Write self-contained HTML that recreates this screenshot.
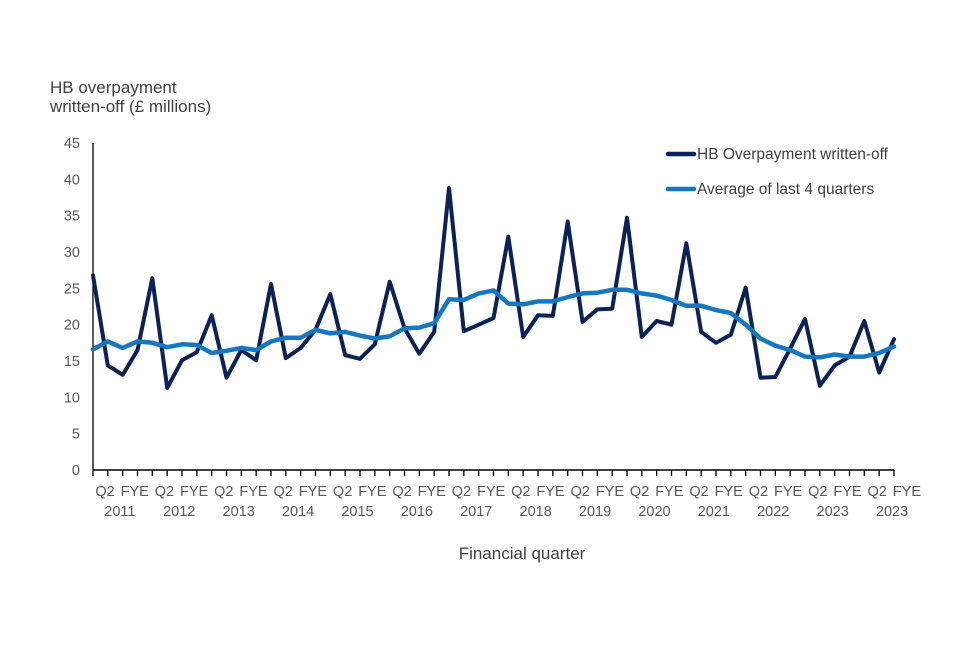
<!DOCTYPE html>
<html><head><meta charset="utf-8"><style>
body{margin:0;background:#fff;}
svg{font-family:"Liberation Sans",Arial,sans-serif;}
</style></head><body>
<svg id="chart" width="960" height="640">
<text x="50" y="93" font-size="17" fill="#404040">HB overpayment</text>
<text x="50" y="112" font-size="17" fill="#404040">written-off (£ millions)</text>
<g id="yticks"></g><g id="xticks"></g><g id="series"></g>
<text x="522" y="559" font-size="17" fill="#404040" text-anchor="middle">Financial quarter</text>
<g>
<line x1="668" y1="154" x2="694" y2="154" stroke="#0b2157" stroke-width="4.5" stroke-linecap="round"/>
<text x="697" y="159" font-size="15.5" fill="#404040">HB Overpayment written-off</text>
<line x1="668" y1="189" x2="694" y2="189" stroke="#1477bf" stroke-width="4.5" stroke-linecap="round"/>
<text x="697" y="194" font-size="15.5" fill="#404040">Average of last 4 quarters</text>
</g>
</svg>
<script>
const yTicks=[0,5,10,15,20,25,30,35,40,45];
const periodLabels=["Q2","FYE"];
const yearLabels=["2011","2012","2013","2014","2015","2016","2017","2018","2019","2020","2021","2022","2023","2023"];
const writtenOff=[26.8,14.4,13.1,16.5,26.4,11.3,15.1,16.2,21.3,12.7,16.5,15.1,25.6,15.4,16.8,19.3,24.2,15.8,15.3,17.3,25.9,19.5,16.0,19.0,38.8,19.1,20.0,20.9,32.1,18.3,21.3,21.2,34.2,20.4,22.1,22.2,34.7,18.3,20.5,20.0,31.2,19.0,17.5,18.6,25.1,12.7,12.8,16.7,20.8,11.6,14.4,15.6,20.5,13.4,18.0];
const average4q=[16.6,17.7,16.8,17.7,17.5,16.9,17.3,17.2,16.1,16.4,16.8,16.5,17.7,18.2,18.2,19.3,18.8,19.0,18.5,18.1,18.4,19.5,19.6,20.2,23.5,23.4,24.3,24.7,22.9,22.8,23.2,23.2,23.8,24.3,24.4,24.8,24.8,24.3,24.0,23.4,22.6,22.6,22.0,21.6,20.0,18.1,17.1,16.5,15.6,15.5,15.9,15.6,15.6,16.1,17.0];
const NS="http://www.w3.org/2000/svg";
const x0=93,x1=894,y0=470,y1=143,yMax=45;
const n=writtenOff.length;
const xPos=i=>x0+i*(x1-x0)/(n-1);
const yPos=v=>y0-v*(y0-y1)/yMax;
function mk(t,a,p){const e=document.createElementNS(NS,t);for(const k in a)e.setAttribute(k,a[k]);p.appendChild(e);return e;}
const yg=document.getElementById('yticks');
yTicks.forEach(v=>{const t=mk('text',{x:80,y:yPos(v)+5,'font-size':14.5,fill:'#595959','text-anchor':'end'},yg);t.textContent=v;

});
const ax=mk('line',{x1:x0,y1:y1,x2:x0,y2:y0,stroke:'#000','stroke-width':1.3},yg);


const xg=document.getElementById('xticks');
const xa=mk('line',{x1:x0,y1:y0,x2:x1,y2:y0,stroke:'#000','stroke-width':1.5},xg);


for(let i=0;i<n;i++){const tk=mk('line',{x1:xPos(i),y1:y0,x2:xPos(i),y2:y0+6,stroke:'#000','stroke-width':1.3},xg);

}
const lblStep=29.7;
yearLabels.forEach((yr,g)=>{periodLabels.forEach((p,j)=>{const k=g*2+j;const t=mk('text',{x:105+k*lblStep,y:496,'font-size':14.5,fill:'#595959','text-anchor':'middle'},xg);t.textContent=p;

});
const t=mk('text',{x:105+(g*2+0.5)*lblStep,y:516,'font-size':14.5,fill:'#595959','text-anchor':'middle'},xg);t.textContent=yr;

});
const sg=document.getElementById('series');
function line(data,color,w,name){const d=data.map((v,i)=>(i?'L':'M')+xPos(i).toFixed(1)+' '+yPos(v).toFixed(1)).join(' ');
const p=mk('path',{d:d,fill:'none',stroke:color,'stroke-width':w,'stroke-linejoin':'round','stroke-linecap':'round'},sg);

}
line(writtenOff,'#0b2157',4,'written-off-line');
line(average4q,'#1477bf',4.5,'average-4q-line');
</script>
</body></html>
